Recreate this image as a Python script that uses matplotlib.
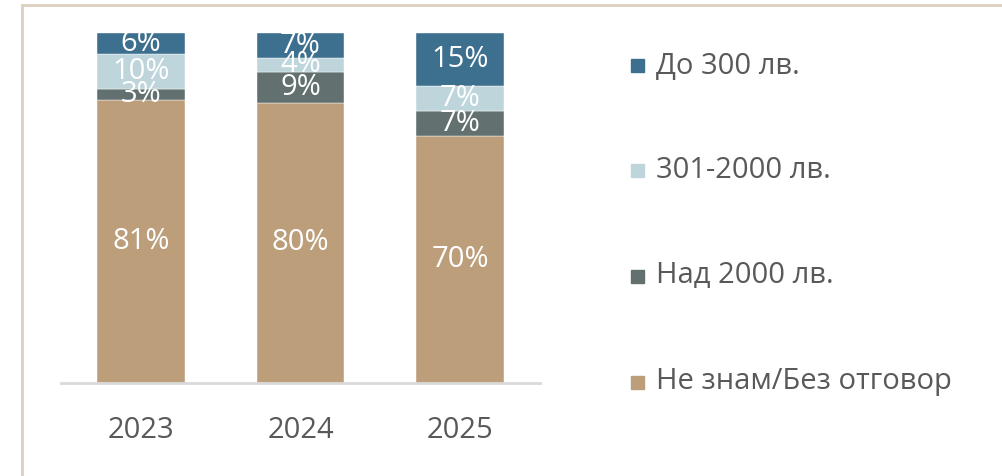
import numpy as np
import matplotlib.pyplot as plt
from matplotlib.patches import Rectangle

plt.rcParams["font.family"] = ["Open Sans", "DejaVu Sans"]

years = ["2023", "2024", "2025"]
series_names = ["Не знам/Без отговор", "Над 2000 лв.", "301-2000 лв.", "До 300 лв."]
dont_know = [81, 80, 70]
over_2000 = [3, 9, 7]
mid_range = [10, 4, 7]
upto_300 = [6, 7, 15]

colors = ["#BC9E7B", "#62716F", "#BED6DB", "#3D6F8E"]
values = np.array([dont_know, over_2000, mid_range, upto_300], dtype=float)
# 100% stacked, like the original chart
shares = values / values.sum(axis=0) * 100

fig = plt.figure(figsize=(10.03, 4.76), dpi=100)
fig.patches.append(Rectangle((22 / 1003, -0.1), 1.2, (476 - 5) / 476 + 0.1,
                             transform=fig.transFigure, fill=False,
                             edgecolor="#DDD0BF", linewidth=2))

ax = fig.add_axes([61 / 1003, 93 / 476, 479 / 1003, 350 / 476])
x = np.arange(len(years))
bottom = np.zeros(len(years))
for name, col, share, raw in zip(series_names, colors, shares, values):
    ax.bar(x, share, bottom=bottom, width=0.55, color=col, label=name,
           edgecolor="white", linewidth=0.3)
    for xi, b, s, r in zip(x, bottom, share, raw):
        ax.text(xi, b + s / 2, f"{int(r)}%", ha="center", va="center",
                color="white", fontsize=21)
    bottom += share

ax.set_xlim(-0.5, 2.5)
ax.set_ylim(0, 100)
ax.set_yticks([])
ax.set_xticks(x)
ax.set_xticklabels(years, fontsize=21, color="#595959")
ax.tick_params(axis="x", length=0, pad=24)
for side in ["top", "right", "left"]:
    ax.spines[side].set_visible(False)
ax.spines["bottom"].set_color("#D9D9D9")
ax.spines["bottom"].set_linewidth(2)

# legend on the right, top series first
leg_y = [66, 170, 276, 382]
for name, col, yy in zip(series_names[::-1], colors[::-1], leg_y):
    fy = 1 - yy / 476
    fig.patches.append(Rectangle((631 / 1003, fy - 6.5 / 476), 13 / 1003, 13 / 476,
                                 transform=fig.transFigure, color=col))
    fig.text(656 / 1003, fy, name, fontsize=21, color="#595959", va="center")

plt.savefig("out.png", dpi=100)
plt.close()
